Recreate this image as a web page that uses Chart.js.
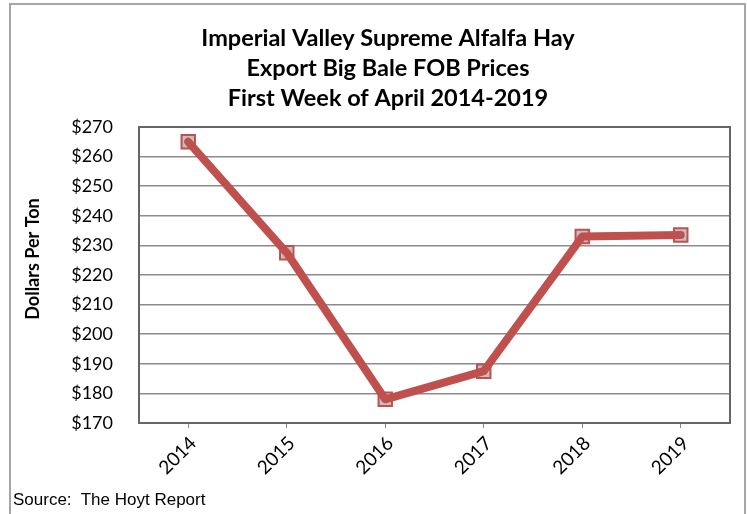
<!DOCTYPE html>
<html>
<head>
<meta charset="utf-8">
<script src="https://cdn.jsdelivr.net/npm/chart.js@4.4.1/dist/chart.umd.min.js"></script>
<style>
  body { margin: 0; background: #fff; }
  #wrap { position: relative; width: 747px; height: 514px; overflow: hidden; }
  #source { position: absolute; left: 13px; top: 490px; font: 17px "Liberation Sans", Arial, sans-serif; color: #000; white-space: pre; }
</style>
</head>
<body>
<div id="wrap">
  <canvas id="chart" width="747" height="514"></canvas>
  <div id="source">Source:  The Hoyt Report</div>
</div>
<script>
/*********** data ***********/
const years = ['2014', '2015', '2016', '2017', '2018', '2019'];
const prices = [265, 227.5, 178, 187.5, 233, 233.5];
const titleLines = ['Imperial Valley Supreme Alfalfa Hay', 'Export Big Bale FOB Prices', 'First Week of April 2014-2019'];
const yTitle = 'Dollars Per Ton';

const red = '#c0504d';

// frames round the chart + plot area, and the rotated y title
const framePlugin = {
    id: 'frames',
    beforeDraw(chart) {
        const ctx = chart.ctx;
        ctx.save();
        ctx.strokeStyle = '#a6a6a6';
        ctx.lineWidth = 2;
        ctx.strokeRect(10, 4, 735, 600);
        ctx.restore();
    },
    afterDraw(chart) {
        const ctx = chart.ctx;
        const a = chart.chartArea;
        ctx.save();
        ctx.strokeStyle = '#666';
        ctx.lineWidth = 2;
        ctx.strokeRect(a.left, a.top, a.right - a.left, a.bottom - a.top);
        ctx.translate(33, 259);
        ctx.rotate(-Math.PI / 2);
        ctx.font = 'bold 18px Lato';
        ctx.fillStyle = '#000';
        ctx.textAlign = 'center';
        ctx.textBaseline = 'middle';
        ctx.fillText(yTitle, 0, 0);
        ctx.restore();
    }
};

new Chart(document.getElementById('chart'), {
    type: 'line',
    data: {
        labels: years,
        datasets: [
            {   // the thick line, drawn on top
                data: prices,
                borderColor: red,
                borderWidth: 8,
                borderCapStyle: 'round',
                borderJoinStyle: 'round',
                pointRadius: 0,
                order: 0
            },
            {   // square markers underneath
                data: prices,
                showLine: false,
                pointStyle: 'rect',
                pointRadius: 9.5,
                pointBackgroundColor: '#c0c0c0',
                pointBorderColor: red,
                pointBorderWidth: 2,
                order: 1
            }
        ]
    },
    options: {
        responsive: false,
        animation: false,
        layout: { padding: { left: 46, right: 17, top: 0, bottom: 0 } },
        plugins: {
            legend: { display: false },
            tooltip: { enabled: false },
            title: {
                display: true,
                text: titleLines,
                color: '#000',
                font: { family: 'Lato', size: 23.5, weight: 'bold', lineHeight: '30px' },
                padding: { top: 23, bottom: 14 }
            }
        },
        scales: {
            x: {
                offset: true,
                afterFit: s => { s.height = 91; },
                grid: { drawOnChartArea: false, drawTicks: true, tickLength: 5, color: '#888', offset: false },
                border: { color: '#666', width: 2 },
                ticks: {
                    minRotation: 45, maxRotation: 45,
                    color: '#000',
                    font: { family: 'Lato', size: 19 },
                    padding: 4,
                    labelOffset: 5
                }
            },
            y: {
                min: 170, max: 270,
                afterFit: s => { s.width = 93; },
                grid: { color: '#8c8c8c', lineWidth: 1.5, drawTicks: false },
                border: { color: '#666', width: 2 },
                ticks: {
                    stepSize: 10,
                    color: '#000',
                    padding: 26,
                    font: { family: 'Lato', size: 18 },
                    callback: v => '$' + v
                }
            }
        }
    },
    plugins: [framePlugin]
});
</script>
</body>
</html>
